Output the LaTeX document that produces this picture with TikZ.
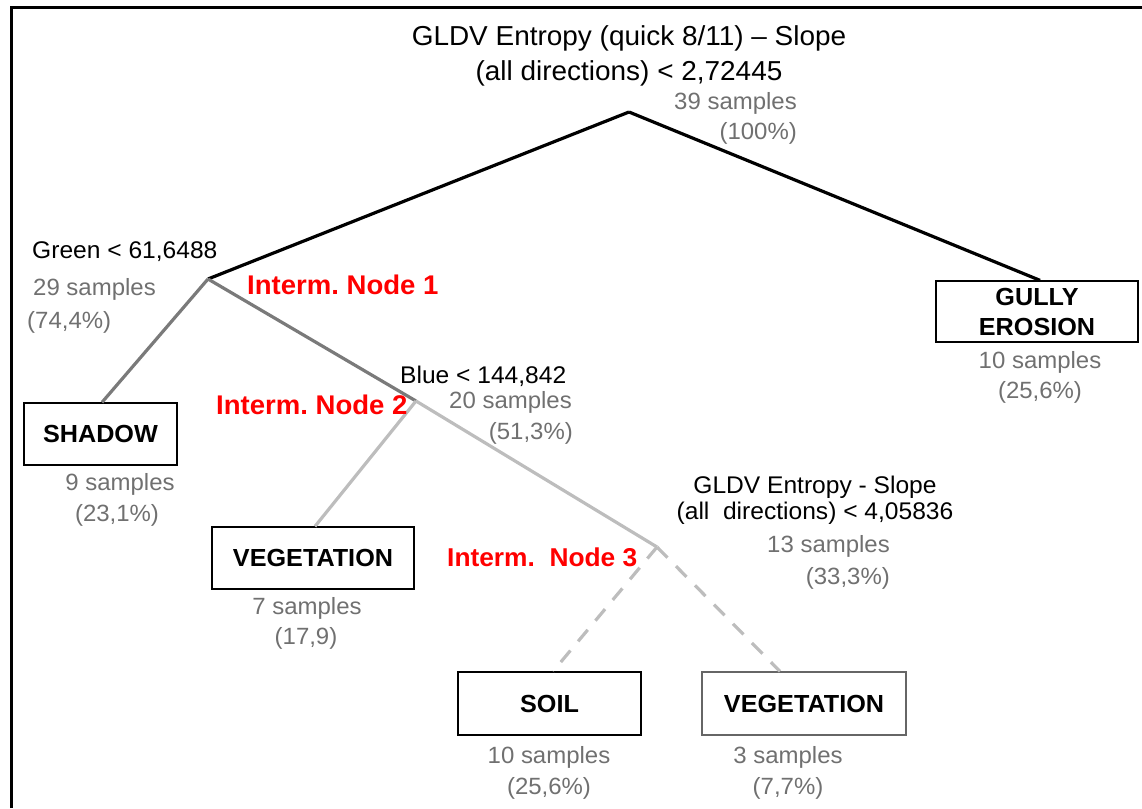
\documentclass[tikz,border=0pt]{standalone}
\usepackage{fontspec}
\setmainfont{Liberation Sans}[FakeStretch=1.02]
\usepackage{tikz}
\usetikzlibrary{calc}

\definecolor{samplegray}{HTML}{707070}
\definecolor{branchdark}{HTML}{7A7A7A}
\definecolor{branchlight}{HTML}{BDBDBD}

\tikzset{
	title/.style={font=\fontsize{27.4}{30}\selectfont, inner sep=0pt},
	rule/.style={font=\fontsize{24.1}{27}\selectfont, inner sep=0pt},
	count/.style={font=\fontsize{23.5}{27}\selectfont, text=samplegray, inner sep=0pt},
	interm/.style={font=\fontsize{27}{30}\selectfont\bfseries, text=red, inner sep=0pt},
	leaf/.style={draw, line width=1.3pt, font=\fontsize{24.7}{30}\selectfont\bfseries, align=center, inner sep=0pt},
	edge/.style={line width=3.2pt},
	cut/.style={line width=3.2pt, branchlight, dash pattern=on 15pt off 12pt},
}

\begin{document}
\begin{tikzpicture}[x=1pt, y=-1pt]
	\useasboundingbox (0,0) rectangle (1142,808);
	%frame
	\draw[line width=3pt]	(11,808)--(11,8)--(1142,8);

	%split points
	\coordinate (n0) at (629,112);
	\coordinate (n1) at (208,279);
	\coordinate (n2) at (416,401);
	\coordinate (n3) at (657,547);

	%classes
	\node[leaf, minimum width=202, minimum height=61] (gully) 	at (1037,311.5) {GULLY\\EROSION};
	\node[leaf, minimum width=153, minimum height=62] (shadow) 	at (100.5,434) 	{SHADOW};
	\node[leaf, minimum width=202, minimum height=62] (vegA) 	at (313,558) 	{VEGETATION};
	\node[leaf, minimum width=183, minimum height=63] (soil) 	at (549.5,703.5) {SOIL};
	\node[leaf, minimum width=204, minimum height=63, draw=black!60] (vegB) at (804,703.5) {VEGETATION};

	%branches
	\draw[edge]					(n0)--(n1);
	\draw[edge]					(n0)--([xshift=3pt]gully.north);
	\draw[edge, branchdark]		(n1)--([xshift=1.5pt]shadow.north);
	\draw[edge, branchdark]		(n1)--(n2);
	\draw[edge, branchlight]	(n2)--([xshift=2pt]vegA.north);
	\draw[edge, branchlight]	(n2)--(n3);
	\draw[cut]					(n3)--([xshift=3.5pt]soil.north);
	\draw[cut]					(n3)--([xshift=-24pt]vegB.north);

	%rules
	\node[title, anchor=base] (rootA) at (629,46) 	{GLDV Entropy (quick 8/11) – Slope};
	\node[title, anchor=base] (rootB) at (629,80) 	{(all directions) < 2,72445};
	\node[rule, anchor=base west] (green) at (32,258) 	{Green < 61,6488};
	\node[rule, anchor=base west] (blue) at (400,383) 	{Blue < 144,842};
	\node[rule, anchor=base] (slopeA) at (815,493) 	{GLDV Entropy - Slope};
	\node[rule, anchor=base] (slopeB) at (815,519) 	{(all\ \ directions) < 4,05836};

	%intermediate nodes
	\node[interm, anchor=base west] (im1) at (247,294) {Interm.\ Node 1};
	\node[interm, anchor=base west] (im2) at (216,414) {Interm.\ Node 2};
	\node[interm, anchor=base west, font=\fontsize{25.8}{30}\selectfont\bfseries] (im3) at (447,566) {Interm.\ \ Node 3};

	%sample counts
	\node[count, anchor=base east] (c0a) at (797,109) 	{39 samples};
	\node[count, anchor=base east] (c0b) at (797,139) 	{(100\%)};
	\node[count, anchor=base west] (c1a) at (33,295) 	{29 samples};
	\node[count, anchor=base west] (c1b) at (27,328) 	{(74,4\%)};
	\node[count, anchor=base east] (c2a) at (572,408) 	{20 samples};
	\node[count, anchor=base east] (c2b) at (573,439) 	{(51,3\%)};
	\node[count, anchor=base east] (c3a) at (890,552) 	{13 samples};
	\node[count, anchor=base east] (c3b) at (890,584) 	{(33,3\%)};
	\node[count, anchor=base] (cga) at (1040,368) 		{10 samples};
	\node[count, anchor=base] (cgb) at (1040,398) 		{(25,6\%)};
	\node[count, anchor=base] (csa) at (120,490) 		{9 samples};
	\node[count, anchor=base] (csb) at (117,521) 		{(23,1\%)};
	\node[count, anchor=base] (cva) at (307,614) 		{7 samples};
	\node[count, anchor=base] (cvb) at (306,644) 		{(17,9)};
	\node[count, anchor=base] (coa) at (549,763) 		{10 samples};
	\node[count, anchor=base] (cob) at (549,794) 		{(25,6\%)};
	\node[count, anchor=base] (cwa) at (788,763) 		{3 samples};
	\node[count, anchor=base] (cwb) at (788,794) 		{(7,7\%)};
\end{tikzpicture}
\end{document}
